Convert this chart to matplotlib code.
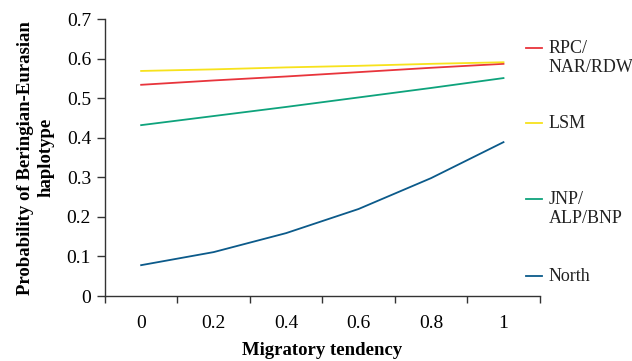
import numpy as np
import matplotlib.pyplot as plt
from matplotlib.lines import Line2D
from matplotlib.ticker import FixedLocator, NullFormatter

plt.rcParams['font.family'] = ['Liberation Serif', 'DejaVu Serif']

#---------------Data---------------
tendency = ['0', '0.2', '0.4', '0.6', '0.8', '1']
rpc = [0.534, 0.545, 0.555, 0.566, 0.577, 0.587]
lsm = [0.569, 0.573, 0.578, 0.582, 0.587, 0.591]
jnp = [0.432, 0.455, 0.478, 0.502, 0.526, 0.551]
north = [0.078, 0.111, 0.159, 0.220, 0.298, 0.389]

labels = ['RPC/\nNAR/RDW', 'LSM', 'JNP/\nALP/BNP', 'North']
colors = ['#e8343c', '#f7e21c', '#0ea37c', '#0b5a8a']

#---------------Plot---------------
fig = plt.figure(figsize=(6.32, 3.61), dpi=100)
ax = fig.add_axes([0.166, 0.18, 0.688, 0.767])

x = np.arange(len(tendency))
for ys, c in zip([rpc, lsm, jnp, north], colors):
    ax.plot(x, ys, color=c, lw=1.3)

ax.set_xlim(-0.5, len(tendency) - 0.5)
ax.set_ylim(0, 0.7)
ax.set_yticks(np.arange(0, 0.71, 0.1))
ax.set_yticklabels(['0'] + ['%.1f' % v for v in np.arange(0.1, 0.71, 0.1)])
ax.set_xticks(x)
ax.set_xticklabels(tendency)
ax.xaxis.set_minor_locator(FixedLocator(np.arange(-0.5, len(tendency), 1)))
ax.xaxis.set_minor_formatter(NullFormatter())
ax.tick_params(axis='x', which='major', length=0, pad=14, labelsize=14)
ax.tick_params(axis='x', which='minor', length=5, width=1, color='#333333')
ax.tick_params(axis='y', length=6, width=1, color='#333333', labelsize=14, pad=4)

for s in ['top', 'right']:
    ax.spines[s].set_visible(False)
for s in ['left', 'bottom']:
    ax.spines[s].set_color('#333333')
    ax.spines[s].set_linewidth(1)

ax.set_xlabel('Migratory tendency', fontsize=13.5, fontweight='bold', labelpad=7)
ax.set_ylabel('Probability of Beringian-Eurasian\nhaplotype', fontsize=13.5,
              fontweight='bold', labelpad=9, linespacing=1.25)

# legend drawn by hand so the key sits next to the first line of each label
leg_y = [0.895, 0.624, 0.35, 0.072]
for lab, c, yy in zip(labels, colors, leg_y):
    ax.add_line(Line2D([0.968, 1.005], [yy, yy], color=c, lw=1.3,
                       transform=ax.transAxes, clip_on=False))
    ax.text(1.02, yy + 0.028, lab, transform=ax.transAxes, fontsize=13,
            va='top', ha='left', linespacing=1.15, color='#222222')

fig.savefig('out.png', dpi=100)
